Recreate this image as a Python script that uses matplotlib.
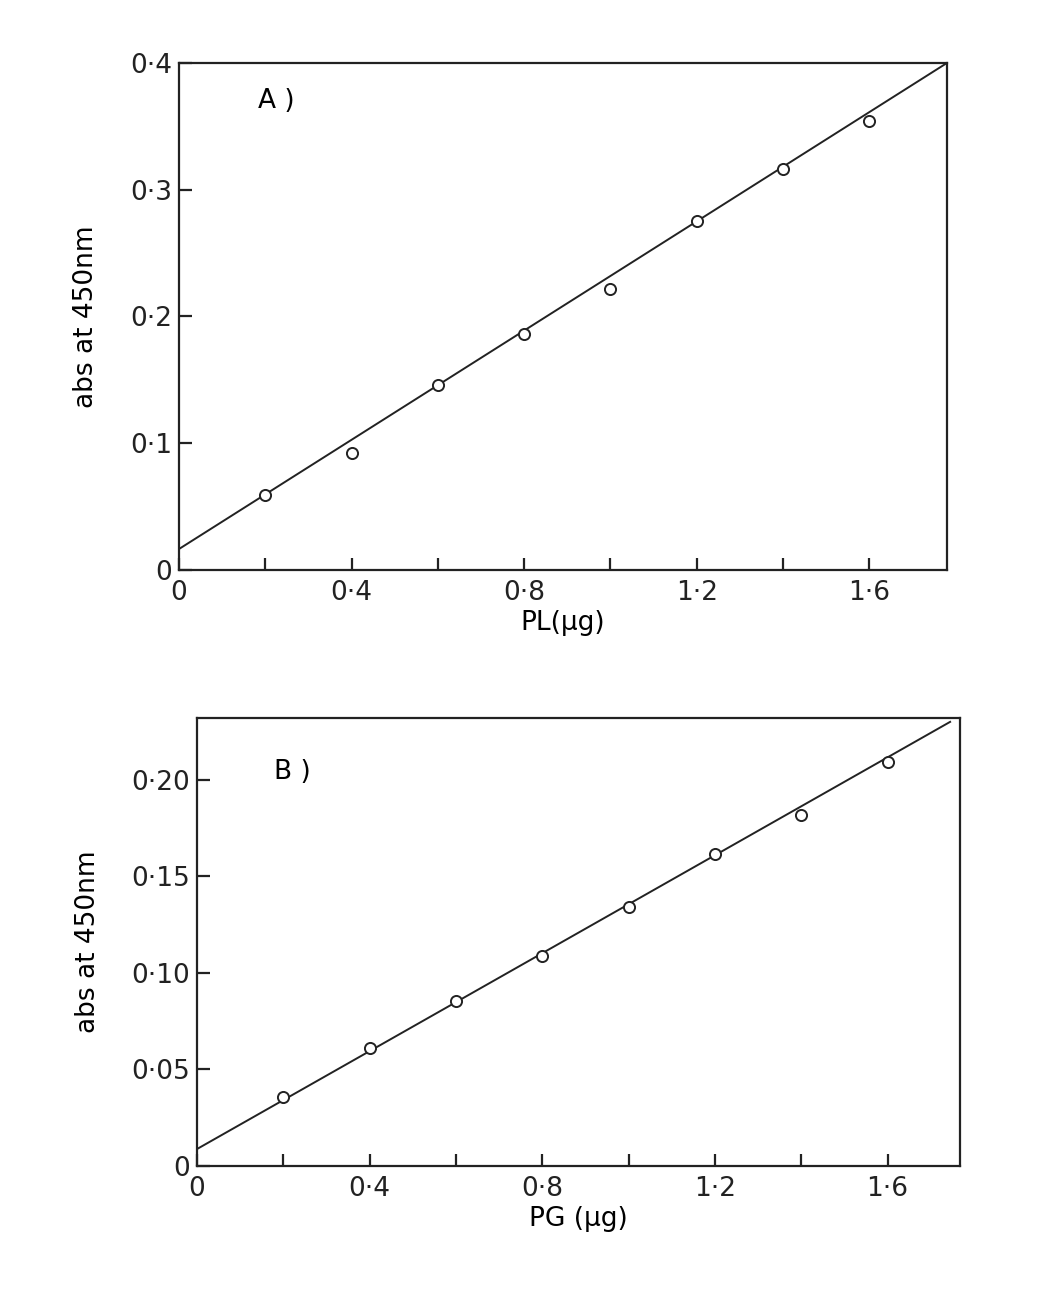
import numpy as np
import matplotlib.pyplot as plt
import matplotlib as mpl

# PL standard curve (panel A)
pl_x = [0.2, 0.4, 0.6, 0.8, 1.0, 1.2, 1.4, 1.6]
pl_abs = [0.059, 0.092, 0.146, 0.186, 0.222, 0.275, 0.316, 0.354]
pl_fit_x = [0.0, 1.78]
pl_fit_y = [0.0165, 0.400]

# PG standard curve (panel B)
pg_x = [0.2, 0.4, 0.6, 0.8, 1.0, 1.2, 1.4, 1.6]
pg_abs = [0.036, 0.061, 0.0855, 0.109, 0.134, 0.1617, 0.182, 0.209]
pg_fit_x = [0.0, 1.745]
pg_fit_y = [0.0088, 0.230]

x_ticks = [0.0, 0.2, 0.4, 0.6, 0.8, 1.0, 1.2, 1.4, 1.6]
x_labels = ["0", "", "0·4", "", "0·8", "", "1·2", "", "1·6"]
a_yticks = [0.0, 0.1, 0.2, 0.3, 0.4]
a_ylabels = ["0", "0·1", "0·2", "0·3", "0·4"]
b_yticks = [0.0, 0.05, 0.10, 0.15, 0.20]
b_ylabels = ["0", "0·05", "0·10", "0·15", "0·20"]

########################################################
plt.rcParams["font.family"] = "DejaVu Sans"
plt.rcParams["font.size"] = 19
plt.rcParams["axes.linewidth"] = 1.6
########################################################

fig = plt.figure(figsize=(10.62, 12.93), dpi=100)
ax_a = fig.add_axes([0.1685, 0.5592, 0.7232, 0.3921])
ax_b = fig.add_axes([0.1855, 0.0982, 0.7185, 0.3465])

panels = [
    (ax_a, pl_x, pl_abs, pl_fit_x, pl_fit_y, 1.78, 0.4, a_yticks, a_ylabels,
     "PL(μg)", "A )", (0.225, 0.37)),
    (ax_b, pg_x, pg_abs, pg_fit_x, pg_fit_y, 1.768, 0.232, b_yticks, b_ylabels,
     "PG (μg)", "B )", (0.22, 0.204)),
]

for ax, xs, ys, fx, fy, xmax, ymax, yt, yl, xlab, tag, tagpos in panels:
    ax.plot(fx, fy, color="#222222", linewidth=1.4, zorder=2)
    ax.plot(xs, ys, linestyle="none", marker="o", markersize=8,
            markerfacecolor="white", markeredgecolor="#222222",
            markeredgewidth=1.4, zorder=3)

    ax.set_xlim(0, xmax)
    ax.set_ylim(0, ymax)
    ax.set_xticks(x_ticks)
    ax.set_xticklabels(x_labels)
    ax.set_yticks(yt)
    ax.set_yticklabels(yl)
    ax.tick_params(axis="both", direction="in", length=9, width=1.6,
                   labelsize=19, colors="#222222")
    ax.tick_params(axis="x", pad=7)
    ax.tick_params(axis="y", pad=5)

    ax.set_xlabel(xlab, fontsize=19, labelpad=3)
    ax.set_ylabel("abs at 450nm", fontsize=19, labelpad=22)
    ax.text(tagpos[0], tagpos[1], tag, fontsize=19, ha="center", va="center")

    for s in ax.spines.values():
        s.set_color("#222222")

plt.savefig("out.png", dpi=100)
